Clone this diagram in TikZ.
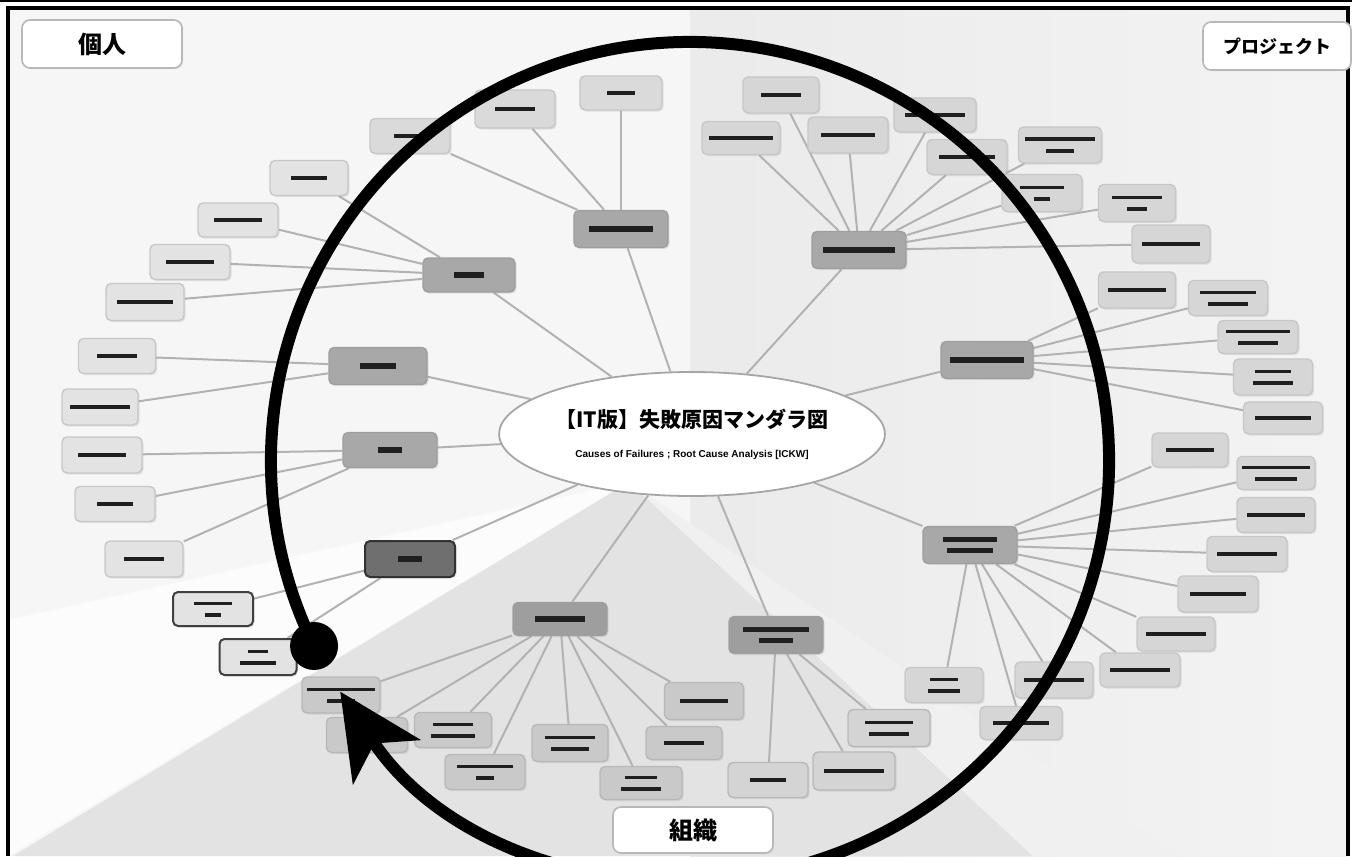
\documentclass[tikz,border=0pt]{standalone}
\usepackage{fontspec}
\newfontfamily\jp{Noto Sans CJK JP}
\setsansfont{Liberation Sans}
\usetikzlibrary{arrows.meta,shadows,calc,shapes.geometric}

\definecolor{edgegray}{HTML}{B2B2B2}
\definecolor{leafL}{HTML}{E3E3E3}
\definecolor{leafT}{HTML}{DADADA}
\definecolor{leafR}{HTML}{D6D6D6}
\definecolor{leafB}{HTML}{C9C9C9}
\definecolor{catfill}{HTML}{A8A8A8}
\definecolor{catdark}{HTML}{6F6F6F}

\pgfdeclarelayer{back}
\pgfdeclarelayer{edges}
\pgfsetlayers{back,edges,main}

% illegible label text is printed as a dark smudge
\newcommand\smudge[2][1.9]{\textcolor{black!88}{\rule{#2pt}{#1pt}}}

\begin{document}
\begin{tikzpicture}[x=0.5pt,y=-0.5pt,
  box/.style={rounded corners=2.5pt, inner sep=0pt, align=center,
    font=\fontsize{4}{5.6}\selectfont,
    drop shadow={opacity=0.18,shadow xshift=0.8pt,shadow yshift=-0.8pt}},
  leaf/.style={box, draw=black!22, line width=0.7pt, fill=leafR,
    minimum width=40pt, minimum height=17.5pt},
  leafl/.style={leaf, fill=leafL},
  leaft/.style={leaf, fill=leafT},
  leafb/.style={leaf, fill=leafB, draw=black!28},
  leafg/.style={leaf, fill=leafL, draw=black!75, line width=1pt},
  cat/.style={box, draw=black!38, line width=0.7pt, fill=catfill,
    minimum width=47pt, minimum height=18.5pt},
  catdk/.style={cat, fill=catdark, draw=black!80, line width=1pt},
  tag/.style={draw=black!28, line width=0.8pt, fill=white, rounded corners=4pt,
    inner sep=0pt, font=\jp\bfseries\fontsize{12}{14}\selectfont,
    drop shadow={opacity=0.15,shadow xshift=0.6pt,shadow yshift=-0.6pt}},
  edge/.style={draw=edgegray, line width=1pt},
]
\useasboundingbox (0,0) rectangle (1352,856);

% ---- background panels ----
\begin{pgfonlayer}{back}
  \fill[white] (0,0) rectangle (1352,856);
  \fill[black!3.5] (8,8) rectangle (690,856);
  \shade[left color=black!8, right color=black!4.5] (690,8) rectangle (1348,856);
  \fill[black!1] (629,482) -- (8,620) -- (8,856) -- cycle;
  \fill[black!11] (629,482) -- (13,856) -- (1033,856) -- cycle;
  \fill[black!6] (629,482) -- (1033,856) -- (1180,856) -- cycle;
\end{pgfonlayer}

% ---- outer frame ----
\draw[line width=1pt] (0,1) -- (1352,1);
\draw[line width=1.6pt] (8,856) -- (8,8) -- (1348,8) -- (1348,856);

% ---- corner labels ----
\node[tag, minimum width=80pt, minimum height=24pt] (person) at (102,44) {個人};
\node[tag, minimum width=74pt, minimum height=24pt,
      font=\jp\bfseries\fontsize{9}{11}\selectfont] (project) at (1277,46) {プロジェクト};
\node[tag, minimum width=80pt, minimum height=23pt] (org) at (693,830) {組織};

% ---- hub ----
\node[ellipse, draw=black!35, line width=0.9pt, fill=white,
      minimum width=170pt, minimum height=62pt, inner sep=0pt, align=center] (hub) at (692,434)
  {{\jp\bfseries\fontsize{10.5}{12}\selectfont 【IT版】失敗原因マンダラ図}\\[3pt]
   {\sffamily\bfseries\fontsize{5}{6}\selectfont Causes of Failures ; Root Cause Analysis [ICKW]}};

% ---- category nodes ----
\node[cat] (k1) at (621,229) {\smudge[2.6]{32}};
\node[cat] (k2) at (859,250) {\smudge[2.6]{36}};
\node[cat, minimum width=46pt] (k3) at (987,360) {\smudge[2.6]{37}};
\node[cat] (k4) at (970,545) {\smudge[2.4]{27}\\\smudge[2.4]{23}};
\node[cat, fill=black!38] (k5) at (776,635) {\smudge[2.4]{33}\\\smudge[2.4]{17}};
\node[cat, fill=black!38, minimum height=16.5pt] (k6) at (560,619) {\smudge[2.6]{25}};
\node[catdk, minimum width=45pt, minimum height=18pt] (k7) at (410,559) {\smudge[2.6]{12}};
\node[cat, minimum height=17.5pt] (k8) at (390,450) {\smudge[2.6]{12}};
\node[cat, minimum width=49pt] (k9) at (378,366) {\smudge[2.6]{18}};
\node[cat, minimum width=46pt, minimum height=17pt] (k10) at (469,275) {\smudge[2.6]{15}};

% ---- leaves: upper left ----
\node[leaft] (a1) at (410,136) {\smudge{16}};
\node[leaft, minimum height=19pt] (a2) at (515,109) {\smudge{20}};
\node[leaft, minimum width=41pt, minimum height=17pt] (a3) at (621,93) {\smudge{14}};
\node[leafl, minimum width=39pt] (j1) at (309,178) {\smudge{18}};
\node[leafl, minimum height=17pt] (j2) at (238,220) {\smudge{24}};
\node[leafl] (j3) at (190,262) {\smudge{24}};
\node[leafl, minimum width=39pt, minimum height=18.5pt] (j4) at (145,302) {\smudge{28}};
\node[leafl, minimum width=38.5pt] (i1) at (117,356) {\smudge{20}};
\node[leafl, minimum width=38pt, minimum height=18pt] (i2) at (100,407) {\smudge{30}};
\node[leafl, minimum height=18pt] (h1) at (102,455) {\smudge{24}};
\node[leafl] (h2) at (115,504) {\smudge{18}};
\node[leafl, minimum width=39pt, minimum height=18pt] (h3) at (144,559) {\smudge{20}};
\node[leafg, minimum height=17pt] (g1) at (213,609) {\smudge{19}\\\smudge{8}};
\node[leafg, minimum width=38.5pt, minimum height=18pt] (g2) at (258,657) {\smudge{10}\\\smudge{18}};

% ---- leaves: bottom ----
\node[leafb, minimum width=39pt, minimum height=18pt] (f1) at (341,695) {\smudge{34}\\\smudge{14}};
\node[leafb, minimum width=40.5pt] (f2) at (367,735) {\smudge{16}};
\node[leafb, minimum width=38.5pt] (f3) at (453,730) {\smudge{20}\\\smudge{22}};
\node[leafb] (f4) at (485,772) {\smudge{28}\\\smudge{9}};
\node[leafb, minimum width=38pt, minimum height=18.5pt] (f5) at (570,743) {\smudge{25}\\\smudge{19}};
\node[leafb, minimum width=41pt, minimum height=16.5pt] (f6) at (641,783) {\smudge{16}\\\smudge{20}};
\node[leafb, minimum width=38pt, minimum height=16.5pt] (f7) at (684,743) {\smudge{20}};
\node[leafb, minimum width=39.5pt, minimum height=18.5pt] (f8) at (704,701) {\smudge{24}};
\node[leafb, fill=black!17] (e1) at (768,780) {\smudge{18}};
\node[leafb, fill=black!17, minimum width=41pt, minimum height=19pt] (e2) at (854,771) {\smudge{30}};
\node[leafb, fill=black!17, minimum width=41pt, minimum height=18.5pt] (e3) at (889,728) {\smudge{24}\\\smudge{20}};

% ---- leaves: right ----
\node[leaf, minimum width=38pt, minimum height=17pt] (d1) at (1190,450) {\smudge{24}};
\node[leaf, minimum width=39pt, minimum height=16.5pt] (d2) at (1276,473) {\smudge{34}\\\smudge{21}};
\node[leaf, minimum width=39pt] (d3) at (1276,515) {\smudge{29}};
\node[leaf] (d4) at (1247,554) {\smudge{30}};
\node[leaf, minimum height=18pt] (d5) at (1218,594) {\smudge{28}};
\node[leaf, minimum width=39pt, minimum height=17pt] (d6) at (1176,634) {\smudge{30}};
\node[leaf, minimum height=17pt] (d7) at (1140,670) {\smudge{30}};
\node[leaf, minimum width=39pt, minimum height=18pt] (d8) at (1054,680) {\smudge{30}};
\node[leaf, minimum width=41pt, minimum height=16.5pt] (d9) at (1021,723) {\smudge{28}};
\node[leaf, minimum width=39pt] (d10) at (944,685) {\smudge{14}\\\smudge{16}};
\node[leaf, minimum width=38.5pt, minimum height=18pt] (c1) at (1137,290) {\smudge{29}};
\node[leaf, minimum width=39.5pt] (c2) at (1228,298) {\smudge{28}\\\smudge{20}};
\node[leaf, minimum height=16.5pt] (c3) at (1258,337) {\smudge{32}\\\smudge{20}};
\node[leaf, minimum width=39.5pt, minimum height=18pt] (c4) at (1273,377) {\smudge{18}\\\smudge{20}};
\node[leaf, minimum width=39.5pt, minimum height=16pt] (c5) at (1283,418) {\smudge{28}};

% ---- leaves: upper right ----
\node[leaf, minimum width=38pt, minimum height=18pt] (b1) at (781,95) {\smudge{20}};
\node[leaf, minimum width=39pt, minimum height=16.5pt] (b2) at (741,138) {\smudge{32}};
\node[leaf, minimum height=18pt] (b3) at (848,135) {\smudge{27}};
\node[leaf, minimum width=41pt, minimum height=17pt] (b4) at (935,115) {\smudge{30}};
\node[leaf] (b5) at (967,157) {\smudge{28}};
\node[leaf, minimum width=41.5pt, minimum height=18pt] (b6) at (1060,145) {\smudge{35}\\\smudge{14}};
\node[leaf, minimum height=18.5pt] (b7) at (1042,193) {\smudge{22}\\\smudge{8}};
\node[leaf, minimum width=38.5pt, minimum height=18.5pt] (b8) at (1137,203) {\smudge{25}\\\smudge{10}};
\node[leaf, minimum width=39pt, minimum height=19pt] (b9) at (1171,244) {\smudge{29}};

% ---- connectors ----
\begin{pgfonlayer}{edges}
  \foreach \k in {k1,k2,k3,k4,k5,k6,k7,k8,k9,k10} \draw[edge] (hub) -- (\k);
  \foreach \c in {a1,a2,a3} \draw[edge] (k1) -- (\c);
  \foreach \c in {b1,b2,b3,b4,b5,b6,b7,b8,b9} \draw[edge] (k2) -- (\c);
  \foreach \c in {c1,c2,c3,c4,c5} \draw[edge] (k3) -- (\c);
  \foreach \c in {d1,d2,d3,d4,d5,d6,d7,d8,d9,d10} \draw[edge] (k4) -- (\c);
  \foreach \c in {e1,e2,e3} \draw[edge] (k5) -- (\c);
  \foreach \c in {f1,f2,f3,f4,f5,f6,f7,f8} \draw[edge] (k6) -- (\c);
  \foreach \c in {g1,g2} \draw[edge] (k7) -- (\c);
  \foreach \c in {h1,h2,h3} \draw[edge] (k8) -- (\c);
  \foreach \c in {i1,i2} \draw[edge] (k9) -- (\c);
  \foreach \c in {j1,j2,j3,j4} \draw[edge] (k10) -- (\c);
\end{pgfonlayer}

% ---- big cycle arrow ----
\coordinate (ring) at (690,461);
\coordinate (ringstart) at ($(ring)+(153.8:419)$);
\begin{scope}
  \clip (8,8) rectangle (1348,856);
  \draw[line width=6pt, -{Stealth[length=42pt,width=40pt,inset=11pt]}]
    (ringstart) arc[start angle=153.8, end angle=506.6, radius=419];
  \fill (ringstart) circle[radius=12pt];
\end{scope}
\end{tikzpicture}
\end{document}
